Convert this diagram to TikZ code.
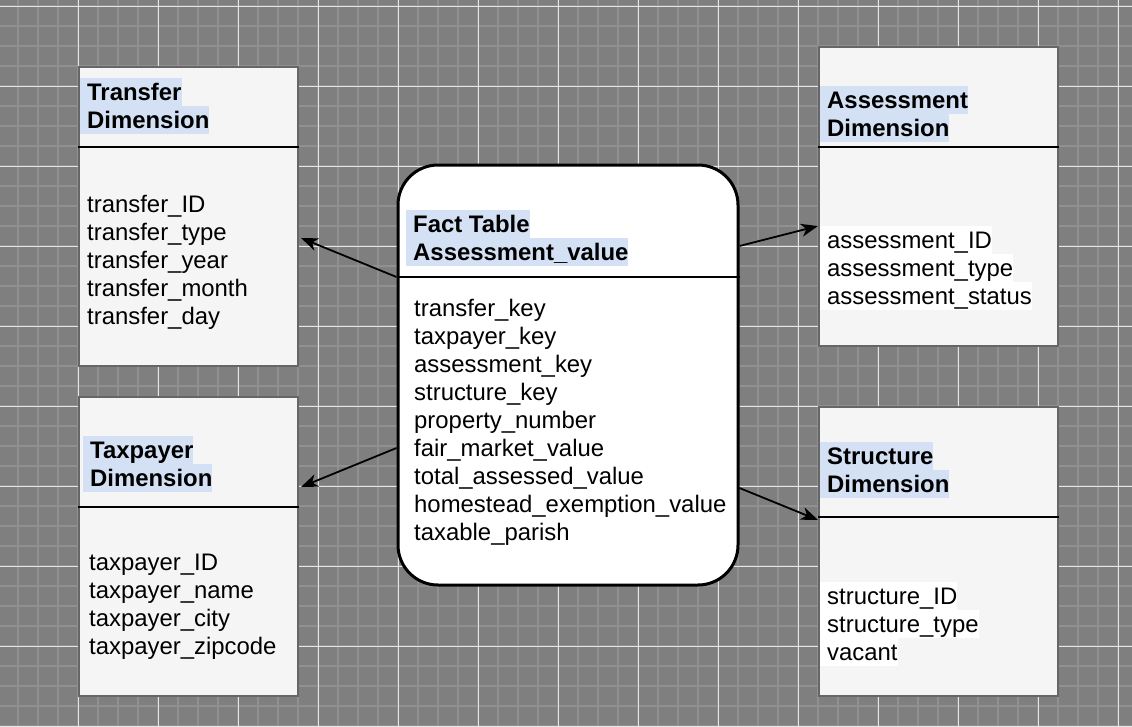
\documentclass[tikz,border=0pt]{standalone}
\usepackage{fontspec}
\setmainfont{Liberation Sans}
\usetikzlibrary{arrows.meta}
\definecolor{bgc}{HTML}{7F7F7F}
\definecolor{minorc}{HTML}{909090}
\definecolor{majorc}{HTML}{E6E6E6}
\definecolor{boxfill}{HTML}{F5F5F5}
\definecolor{boxline}{HTML}{666666}
\definecolor{hlblue}{HTML}{D4E1F5}
\begin{document}
\begin{tikzpicture}[x=1pt,y=-1pt,
  minorline/.style={draw=minorc, line width=2pt},
  majorline/.style={draw=majorc, line width=1pt},
  dimbox/.style={draw=boxline, line width=2pt, fill=boxfill, inner sep=0pt},
  factbox/.style={draw=black, line width=3pt, fill=white, rounded corners=40pt, inner sep=0pt},
  sepline/.style={draw=black, line width=2pt},
  txt/.style={anchor=base west, inner sep=0pt, font=\fontsize{23.9}{28}\selectfont},
  hl/.style={txt, fill=hlblue, text height=22pt, text depth=6pt, font=\fontsize{23.9}{28}\selectfont\bfseries},
  whl/.style={txt, fill=white, text height=22pt, text depth=6pt},
  arr/.style={draw=black, line width=1.8pt, -{Stealth[length=17pt,width=13pt,inset=5pt]}}
]
\useasboundingbox (0,0) rectangle (1132,726);
\fill[bgc] (0,0) rectangle (1132,726);
\foreach \x in {18,38,...,1130} \draw[minorline] (\x,0) -- (\x,726);
\foreach \y in {6,26,...,726} \draw[minorline] (0,\y) -- (1132,\y);
\foreach \x in {78,158,...,1130} \draw[majorline] (\x,0) -- (\x,726);
\foreach \y in {6,86,...,726} \draw[majorline] (0,\y) -- (1132,\y);

% boxes
\node[dimbox, minimum width=219pt, minimum height=299pt] (transfer) at (188.5,216.5) {};
\node[dimbox, minimum width=219pt, minimum height=299pt] (taxpayer) at (188.5,546.5) {};
\node[dimbox, minimum width=239pt, minimum height=299pt] (assess) at (938.5,196.5) {};
\node[dimbox, minimum width=239pt, minimum height=289pt] (struct) at (938.5,551.5) {};
\node[factbox, minimum width=340pt, minimum height=420pt] (fact) at (568,375) {};

\draw[sepline] (transfer.west |- 0,147) -- (transfer.east |- 0,147);
\draw[sepline] (taxpayer.west |- 0,507) -- (taxpayer.east |- 0,507);
\draw[sepline] (assess.west |- 0,147) -- (assess.east |- 0,147);
\draw[sepline] (struct.west |- 0,517) -- (struct.east |- 0,517);
\draw[sepline] (fact.west |- 0,277) -- (fact.east |- 0,277);

% transfer
\node[hl] (th1) at (80,100) {\hspace{7pt}Transfer\hspace{2pt}};
\node[hl] (th2) at (80,128) {\hspace{7pt}Dimension\hspace{2pt}};
\node[txt] (tb1) at (87,212) {transfer\_ID};
\node[txt] (tb2) at (87,240) {transfer\_type};
\node[txt] (tb3) at (87,268) {transfer\_year};
\node[txt] (tb4) at (87,296) {transfer\_month};
\node[txt] (tb5) at (87,324) {transfer\_day};

% taxpayer
\node[hl] (ph1) at (83,458) {\hspace{7pt}Taxpayer\hspace{2pt}};
\node[hl] (ph2) at (83,486) {\hspace{7pt}Dimension\hspace{2pt}};
\node[txt] (pb1) at (89,570) {taxpayer\_ID};
\node[txt] (pb2) at (89,598) {taxpayer\_name};
\node[txt] (pb3) at (89,626) {taxpayer\_city};
\node[txt] (pb4) at (89,654) {taxpayer\_zipcode};

% fact
\node[hl] (fh1) at (406,232) {\hspace{7pt}Fact Table\hspace{8pt}};
\node[hl] (fh2) at (406,260) {\hspace{7pt}Assessment\_value\hspace{2pt}};
\node[txt] (fb1) at (414,316) {transfer\_key};
\node[txt] (fb2) at (414,344) {taxpayer\_key};
\node[txt] (fb3) at (414,372) {assessment\_key};
\node[txt] (fb4) at (414,400) {structure\_key};
\node[txt] (fb5) at (414,428) {property\_number};
\node[txt] (fb6) at (414,456) {fair\_market\_value};
\node[txt] (fb7) at (414,484) {total\_assessed\_value};
\node[txt] (fb8) at (414,512) {homestead\_exemption\_value};
\node[txt] (fb9) at (414,540) {taxable\_parish};

% assessment
\node[hl] (ah1) at (820,108) {\hspace{7pt}Assessment\hspace{2pt}};
\node[hl] (ah2) at (820,136) {\hspace{7pt}Dimension\hspace{2pt}};
\node[whl] (ab1) at (820,248) {\hspace{7pt}assessment\_ID\hspace{2pt}};
\node[whl] (ab2) at (820,276) {\hspace{7pt}assessment\_type\hspace{2pt}};
\node[whl] (ab3) at (820,304) {\hspace{7pt}assessment\_status\hspace{2pt}};

% structure
\node[hl] (sh1) at (820,464) {\hspace{7pt}Structure\hspace{2pt}};
\node[hl] (sh2) at (820,492) {\hspace{7pt}Dimension\hspace{2pt}};
\node[whl] (sb1) at (820,604) {\hspace{7pt}structure\_ID\hspace{2pt}};
\node[whl] (sb2) at (820,632) {\hspace{7pt}structure\_type\hspace{2pt}};
\node[whl] (sb3) at (820,660) {\hspace{7pt}vacant\hspace{2pt}};

% connectors
\draw[arr] ([yshift=98pt]fact.west) -- ([yshift=-21.5pt,xshift=2pt]transfer.east);
\draw[arr] ([yshift=-73pt]fact.west) -- ([yshift=59.5pt,xshift=2pt]taxpayer.east);
\draw[arr] ([yshift=129pt]fact.east) -- ([yshift=-29.5pt]assess.west);
\draw[arr] ([yshift=-113pt]fact.east) -- ([yshift=31.5pt]struct.west);
\end{tikzpicture}
\end{document}
